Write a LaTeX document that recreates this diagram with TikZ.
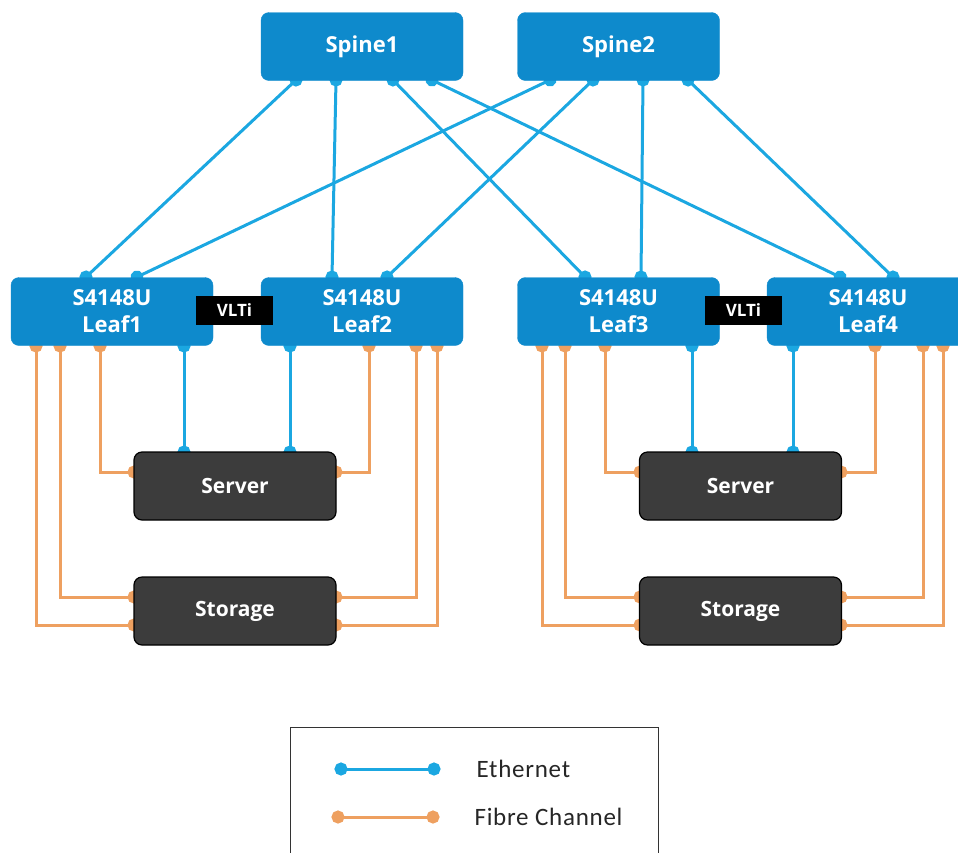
\documentclass[tikz,border=0pt]{standalone}
\usepackage{fontspec}
\setmainfont{Open Sans}
\newfontfamily\legendfont[LetterSpace=3]{Carlito}
\usetikzlibrary{arrows.meta}
\usepackage{xcolor}
\definecolor{boxblue}{RGB}{14,138,204}
\definecolor{ethblue}{RGB}{27,167,225}
\definecolor{fcorange}{RGB}{238,160,96}
\definecolor{darkbox}{RGB}{60,60,60}

\begin{document}
\begin{tikzpicture}[x=1pt, y=-1pt]
        % ================= 样式定义 =================
        \tikzset{
            % 交换机 (蓝色圆角框)
            switch_box/.style={rounded corners=8pt, fill=boxblue, draw=boxblue, text=white, minimum width=202pt, minimum height=68pt, inner sep=0pt, align=center, font=\bfseries\fontsize{22}{27}\selectfont},
            % 服务器/存储 (深灰圆角框)
            host_box/.style={rounded corners=8pt, fill=darkbox, draw=black, line width=1.2pt, text=white, minimum width=202pt, minimum height=68pt, inner sep=0pt, font=\bfseries\fontsize{21}{25}\selectfont},
            % VLTi 标签
            vlti_tag/.style={fill=black, text=white, minimum width=77pt, minimum height=29pt, inner sep=0pt, font=\bfseries\fontsize{17}{19}\selectfont},
            % 以太网连线 (蓝色, 两端圆点)
            eth_link/.style={line width=3pt, ethblue, {Circle[length=13pt]}-{Circle[length=13pt]}, shorten <=-6.5pt, shorten >=-6.5pt},
            % 光纤通道连线 (橙色, 两端圆点)
            fc_link/.style={line width=3pt, fcorange, {Circle[length=13pt]}-{Circle[length=13pt]}, shorten <=-6.5pt, shorten >=-6.5pt},
            % 图例
            legend_box/.style={draw=black!80, line width=1.2pt, minimum width=368pt, minimum height=160pt, anchor=north west, inner sep=0pt},
            legend_text/.style={anchor=west, text=black!85, font=\legendfont\fontsize{25}{27}\selectfont}
        }

        \useasboundingbox (0,0) rectangle (958,852);
        \clip (0,0) rectangle (958,852);

        % ================= 端口坐标 =================
        % Spine 底部端口
        \coordinate (s1_1) at (296,80);
        \coordinate (s1_2) at (336,80);
        \coordinate (s1_3) at (393,80);
        \coordinate (s1_4) at (432,80);
        \coordinate (s2_1) at (550,80);
        \coordinate (s2_2) at (593,80);
        \coordinate (s2_3) at (643,80);
        \coordinate (s2_4) at (688,80);

        % Leaf 顶部端口
        \coordinate (l1_t1) at (86,277);
        \coordinate (l1_t2) at (137,277);
        \coordinate (l2_t1) at (332,277);
        \coordinate (l2_t2) at (387,277);
        \coordinate (l3_t1) at (585,277);
        \coordinate (l3_t2) at (641,277);
        \coordinate (l4_t1) at (840,277);
        \coordinate (l4_t2) at (893,277);

        % Leaf 底部端口
        \coordinate (l1_b1) at (36,346);
        \coordinate (l1_b2) at (60,346);
        \coordinate (l1_b3) at (100,346);
        \coordinate (l1_b4) at (184,346);
        \coordinate (l2_b1) at (290,346);
        \coordinate (l2_b2) at (369,346);
        \coordinate (l2_b3) at (416,346);
        \coordinate (l2_b4) at (437,346);
        \coordinate (l3_b1) at (542,346);
        \coordinate (l3_b2) at (565,346);
        \coordinate (l3_b3) at (605,346);
        \coordinate (l3_b4) at (692,346);
        \coordinate (l4_b1) at (793,346);
        \coordinate (l4_b2) at (875,346);
        \coordinate (l4_b3) at (923,346);
        \coordinate (l4_b4) at (943,346);

        % 服务器/存储端口
        \coordinate (sv1_t1) at (184,452);
        \coordinate (sv1_t2) at (290,452);
        \coordinate (sv1_w) at (134,472);
        \coordinate (sv1_e) at (336,472);
        \coordinate (st1_w1) at (134,597);
        \coordinate (st1_w2) at (134,625);
        \coordinate (st1_e1) at (336,597);
        \coordinate (st1_e2) at (336,625);
        \coordinate (sv2_t1) at (692,452);
        \coordinate (sv2_t2) at (793,452);
        \coordinate (sv2_w) at (640,472);
        \coordinate (sv2_e) at (841,472);
        \coordinate (st2_w1) at (640,597);
        \coordinate (st2_w2) at (640,625);
        \coordinate (st2_e1) at (841,597);
        \coordinate (st2_e2) at (841,625);

        % ================= Spine-Leaf 以太网连线 =================
        \draw[eth_link] (s1_1) -- (l1_t1);
        \draw[eth_link] (s1_2) -- (l2_t1);
        \draw[eth_link] (s1_3) -- (l3_t1);
        \draw[eth_link] (s1_4) -- (l4_t1);
        \draw[eth_link] (s2_1) -- (l1_t2);
        \draw[eth_link] (s2_2) -- (l2_t2);
        \draw[eth_link] (s2_3) -- (l3_t2);
        \draw[eth_link] (s2_4) -- (l4_t2);

        % ================= Leaf-服务器 以太网连线 =================
        \draw[eth_link] (l1_b4) -- (sv1_t1);
        \draw[eth_link] (l2_b1) -- (sv1_t2);
        \draw[eth_link] (l3_b4) -- (sv2_t1);
        \draw[eth_link] (l4_b1) -- (sv2_t2);

        % ================= 光纤通道连线 =================
        \draw[fc_link] (l1_b3) |- (sv1_w);
        \draw[fc_link] (l1_b2) |- (st1_w1);
        \draw[fc_link] (l1_b1) |- (st1_w2);
        \draw[fc_link] (l2_b2) |- (sv1_e);
        \draw[fc_link] (l2_b3) |- (st1_e1);
        \draw[fc_link] (l2_b4) |- (st1_e2);
        \draw[fc_link] (l3_b3) |- (sv2_w);
        \draw[fc_link] (l3_b2) |- (st2_w1);
        \draw[fc_link] (l3_b1) |- (st2_w2);
        \draw[fc_link] (l4_b2) |- (sv2_e);
        \draw[fc_link] (l4_b3) |- (st2_e1);
        \draw[fc_link] (l4_b4) |- (st2_e2);

        % ================= 放置节点 =================
        \node[switch_box] (spine1) at (362,46.5) {Spine1};
        \node[switch_box] (spine2) at (618.5,46.5) {Spine2};
        \node[switch_box] (leaf1) at (112,311.5) {S4148U\\Leaf1};
        \node[switch_box] (leaf2) at (362,311.5) {S4148U\\Leaf2};
        \node[switch_box] (leaf3) at (618.5,311.5) {S4148U\\Leaf3};
        \node[switch_box] (leaf4) at (868,311.5) {S4148U\\Leaf4};
        \node[vlti_tag] (vlti1) at (234.5,310) {VLTi};
        \node[vlti_tag] (vlti2) at (743.5,310) {VLTi};

        \node[host_box] (server1) at (235,486) {Server};
        \node[host_box] (storage1) at (235,611) {Storage};
        \node[host_box] (server2) at (740.5,486) {Server};
        \node[host_box] (storage2) at (740.5,611) {Storage};

        % ================= 图例 =================
        \node[legend_box] (legend) at (290,727) {};
        \coordinate (eth_a) at (341,769);
        \coordinate (eth_b) at (434,769);
        \coordinate (fc_a) at (338,817);
        \coordinate (fc_b) at (433,817);
        \draw[eth_link] (eth_a) -- (eth_b);
        \draw[fc_link] (fc_a) -- (fc_b);
        \node[legend_text] (eth_label) at (473,769) {Ethernet};
        \node[legend_text] (fc_label) at (471,817) {Fibre Channel};

    \end{tikzpicture}
\end{document}
